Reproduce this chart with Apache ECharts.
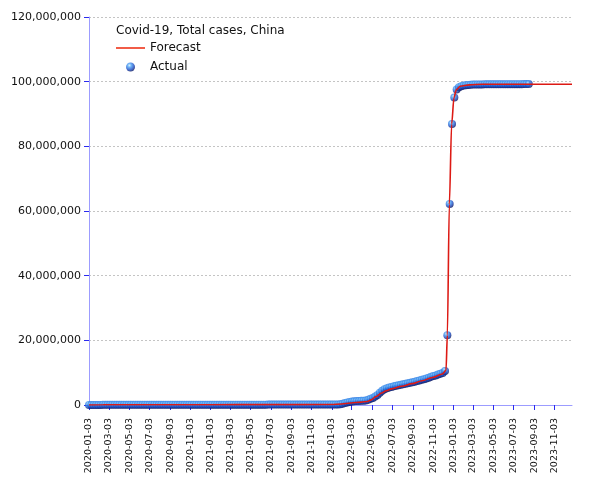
<!DOCTYPE html>
<html>
<head>
<meta charset="utf-8">
<script src="https://cdn.jsdelivr.net/npm/echarts@6/dist/echarts.min.js"></script>
<style>
html,body{margin:0;padding:0;background:#fff;}
#chart{width:605px;height:480px;}
</style>
</head>
<body>
<div id="chart"></div>
<script>
// ---------------- DATA ----------------
const chartTitle = 'Covid-19, Total cases, China';
const seriesNames = ['Forecast', 'Actual'];

// X tick labels (every two months)
const xTickLabels = [
  '2020-01-03','2020-03-03','2020-05-03','2020-07-03','2020-09-03','2020-11-03',
  '2021-01-03','2021-03-03','2021-05-03','2021-07-03','2021-09-03','2021-11-03',
  '2022-01-03','2022-03-03','2022-05-03','2022-07-03','2022-09-03','2022-11-03',
  '2023-01-03','2023-03-03','2023-05-03','2023-07-03','2023-09-03','2023-11-03'
];
const xMin = '2020-01-03';
const xMax = '2023-12-26';

// Y ticks
const yMin = 0, yMax = 120000000, yStep = 20000000;

// Actual: weekly readings starting at actualStart
const actualStart = '2020-01-03';
const actualStepDays = 7;
const actualValues = [
  // 2020
  0,50,100,900,11800,34600,64000,75600,79300,80700,81000,81500,82100,82800,83500,84100,84300,84400,
  84500,84600,84700,84800,84900,85200,85400,85600,
  85700,86000,86500,87200,88000,88600,89000,89300,
  89500,89700,89900,90100,90300,90500,90700,90900,91200,91600,92100,
  92700,93400,94100,94800,95400,96000,96600,
  // 2021
  97500,98500,99500,100300,100800,101100,101300,101500,101700,
  101900,102100,102300,102500,102700,102900,103100,103300,103500,
  103800,104300,106000,109000,112000,114000,115500,116500,117200,117700,
  118100,118500,118900,119300,119700,120100,120500,120800,121100,121400,121700,
  122000,122300,122600,123000,123500,124100,124700,125300,125900,126500,127100,127700,128300,129000,
  // 2022
  131000,134000,140000,200000,
  400000,600000,800000,950000,1050000,1150000,1200000,1250000,1300000,1350000,1400000,
  1600000,1900000,2200000,2600000,3100000,3800000,4400000,4900000,5200000,5400000,5600000,5800000,
  5950000,6100000,6250000,6400000,6550000,6700000,6850000,7000000,7200000,7400000,7600000,7800000,
  8000000,8200000,8450000,8700000,8950000,9150000,9400000,9650000,9900000,
  // Dec 2022 - Feb 2023 jump
  10500000,21600000,62200000,86900000,95100000,97600000,98300000,98600000,98800000,98900000,99000000,99050000,99100000,
  // 2023 plateau
  99150000,99150000,99150000,99150000,99200000,99200000,99200000,99200000,99200000,99200000,99200000,99200000,
  99200000,99200000,99220000,99220000,99220000,99220000,99230000,99230000,99230000,99240000,99240000,99250000
];

// Forecast curve
const forecastDates = [
  '2020-01-03','2020-02-15','2020-06-01','2021-01-01','2021-07-01','2022-01-01','2022-02-01',
  '2022-03-01','2022-04-01','2022-04-20','2022-05-01','2022-05-15','2022-06-01','2022-06-15',
  '2022-07-01','2022-08-01','2022-09-01','2022-10-01','2022-11-01','2022-12-01','2022-12-12',
  '2022-12-16','2022-12-22','2022-12-29','2023-01-05','2023-01-12','2023-01-24','2023-02-20',
  '2023-04-01','2023-12-26'
];
const forecastValues = [
  0,70000,90000,100000,120000,140000,300000,
  600000,900000,1100000,1600000,2600000,3700000,4400000,
  5000000,5800000,6600000,7500000,8500000,9600000,10700000,
  21600000,62000000,86900000,95100000,97500000,98600000,99000000,
  99200000,99200000
];

// ---------------- BUILD ----------------
function ts(s){ const p = s.split('-'); return Date.UTC(+p[0], +p[1]-1, +p[2]); }
const DAY = 86400000;
const startTs = ts(actualStart);
const actualData = actualValues.map((v, i) => [startTs + i * actualStepDays * DAY, v]);
const forecastData = forecastDates.map((d, i) => [ts(d), forecastValues[i]]);
const tickTs = xTickLabels.map(ts);
const tickLabelMap = {};
xTickLabels.forEach((l, i) => { tickLabelMap[tickTs[i]] = l; });

const FONT = 'DejaVu Sans';
const axisLineColor = '#9c9cff';
const tickColor = '#2a2aee';
const lineColor = '#dd1a14';

const ballColor = {
  type: 'radial', x: 0.38, y: 0.32, r: 0.7,
  colorStops: [
    { offset: 0, color: '#d0f0ff' },
    { offset: 0.3, color: '#4aa0f5' },
    { offset: 0.7, color: '#1a4cc4' },
    { offset: 1, color: '#0a1660' }
  ]
};

const chart = echarts.init(document.getElementById('chart'), null, { renderer: 'canvas' });
chart.setOption({
  animation: false,
  backgroundColor: '#ffffff',
  title: {
    text: chartTitle, left: 116, top: 25, padding: 0,
    textStyle: { fontFamily: FONT, fontSize: 12, fontWeight: 'normal', color: '#111' }
  },
  legend: [
    {
      data: [{ name: seriesNames[0], icon: 'rect' }], left: 116, top: 42, padding: 0, selectedMode: false,
      itemWidth: 29, itemHeight: 1.6, itemGap: 0,
      itemStyle: { color: '#ee3318' },
      textStyle: { fontFamily: FONT, fontSize: 12, color: '#111' }
    },
    {
      data: [{ name: seriesNames[1], icon: 'circle' }], left: 126, top: 61, padding: 0, selectedMode: false,
      itemWidth: 9, itemHeight: 9, itemGap: 0,
      textStyle: { fontFamily: FONT, fontSize: 12, color: '#111', padding: [0, 0, 0, 10] }
    }
  ],
  grid: { left: 89, right: 33, top: 17, bottom: 75, containLabel: false },
  xAxis: {
    type: 'value',
    min: ts(xMin), max: ts(xMax),
    axisLine: { show: true, lineStyle: { color: axisLineColor, width: 1 } },
    axisTick: { show: true, length: 5, customValues: tickTs, lineStyle: { color: tickColor } },
    axisLabel: {
      customValues: tickTs, rotate: 90, margin: 13,
      fontFamily: FONT, fontSize: 9.5, color: '#111',
      formatter: function (v) { return tickLabelMap[v] || ''; }
    },
    splitLine: { show: false }
  },
  yAxis: {
    type: 'value', min: yMin, max: yMax, interval: yStep,
    axisLine: { show: true, lineStyle: { color: axisLineColor, width: 1 } },
    axisTick: { show: true, length: 5, lineStyle: { color: tickColor } },
    axisLabel: {
      margin: 8, fontFamily: FONT, fontSize: 11, color: '#111',
      formatter: function (v) { return v.toLocaleString('en-US'); }
    },
    splitLine: { show: true, lineStyle: { color: '#c4c4c4', type: [2, 2], width: 1 } }
  },
  series: [
    {
      name: seriesNames[1], type: 'scatter', data: actualData,
      symbol: 'circle', symbolSize: 8, z: 2,
      itemStyle: { color: ballColor }
    },
    {
      name: seriesNames[0], type: 'line', data: forecastData,
      showSymbol: false, symbol: 'none', smooth: 0.3, smoothMonotone: 'x', z: 3,
      lineStyle: { color: lineColor, width: 1.6 },
      itemStyle: { color: lineColor }
    }
  ]
});
</script>
</body>
</html>
